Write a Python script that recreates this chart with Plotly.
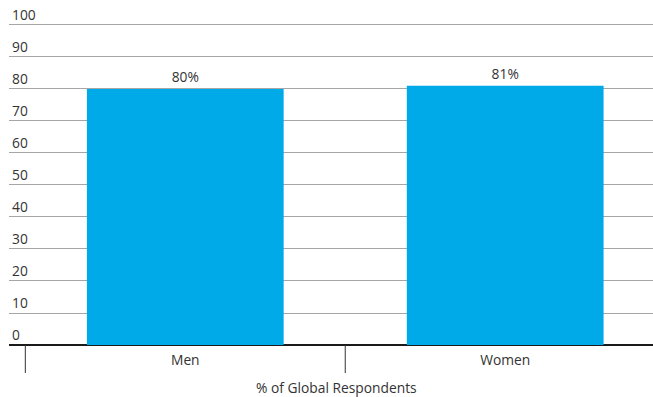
import plotly.graph_objects as go

# Share of respondents, by gender
categories = ["Men", "Women"]
values = [80, 81]
value_labels = ["80%", "81%"]
y_ticks = [0, 10, 20, 30, 40, 50, 60, 70, 80, 90, 100]
x_axis_title = "% of Global Respondents"

BAR_COLOR = "#00A9E8"
TEXT_COLOR = "#333333"
FONT = "Open Sans"
FS = 13.8

fig = go.Figure()

fig.add_trace(go.Bar(
    x=categories,
    y=values,
    text=value_labels,
    textposition="outside",
    textfont=dict(family=FONT, size=FS, color=TEXT_COLOR),
    marker=dict(color=BAR_COLOR, line=dict(width=0)),
    cliponaxis=False,
    hoverinfo="skip",
))

n = len(categories)
x_range = [-0.551, n - 1 + 0.462]

# Category boundary ticks hanging below the baseline
for b in [i - 0.5 for i in range(n + 1)]:
    fig.add_shape(
        type="line", xref="x", yref="paper",
        x0=b, x1=b, ysizemode="pixel", yanchor=0, y0=0, y1=-28,
        line=dict(color="#333333", width=1),
    )

# Axis caption under the category labels
fig.add_annotation(
    text=x_axis_title, xref="paper", yref="paper",
    x=0.509, y=0, xanchor="center", yanchor="top", yshift=-31,
    showarrow=False, font=dict(family=FONT, size=FS, color=TEXT_COLOR),
)

fig.update_layout(
    width=653,
    height=397,
    margin=dict(l=9, r=0, t=0, b=52),
    paper_bgcolor="white",
    plot_bgcolor="white",
    showlegend=False,
    bargap=0.385,
    font=dict(family=FONT, size=FS, color=TEXT_COLOR),
    xaxis=dict(
        type="category",
        range=x_range,
        showgrid=False,
        showline=False,
        ticks="outside",
        ticklen=2,
        tickcolor="rgba(0,0,0,0)",
        tickfont=dict(family=FONT, size=FS, color=TEXT_COLOR),
        automargin=False,
    ),
    yaxis=dict(
        range=[0, 107.8],
        tickmode="array",
        tickvals=y_ticks,
        ticks="",
        ticklabelposition="inside top",
        tickfont=dict(family=FONT, size=FS, color=TEXT_COLOR),
        showgrid=True,
        gridcolor="#a6a6a6",
        gridwidth=1,
        zeroline=True,
        zerolinecolor="#1a1a1a",
        zerolinewidth=2,
        showline=False,
        automargin=False,
    ),
)

fig.write_html("out.html")
